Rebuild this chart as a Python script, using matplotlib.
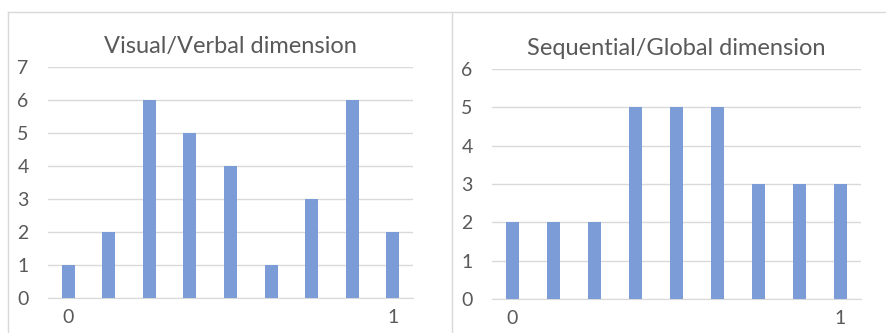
import matplotlib
matplotlib.use("Agg")
import matplotlib.pyplot as plt
from matplotlib.lines import Line2D
import numpy as np

# Histogram counts for each dimension
visual_counts = [1, 2, 6, 5, 4, 1, 3, 6, 2]
sequential_counts = [2, 2, 2, 5, 5, 5, 3, 3, 3]
edge_labels = ["0", "1"]

titles = ["Visual/Verbal dimension", "Sequential/Global dimension"]
ymaxes = [7, 6]

bar_color = "#7b9cd7"
grid_color = "#d9d9d9"
text_color = "#595959"

plt.rcParams['font.family'] = ['Lato', 'DejaVu Sans']

fig = plt.figure(figsize=(8.87, 3.33), dpi=100)
fig.patch.set_facecolor("white")

# chart frames like Excel
frame = "#d9d9d9"
fig.add_artist(Line2D([8/887, 1], [1 - 12/333, 1 - 12/333], color=frame, lw=1))
fig.add_artist(Line2D([8/887, 8/887], [0, 1 - 12/333], color=frame, lw=1))
fig.add_artist(Line2D([452/887, 452/887], [0, 1 - 12/333], color=frame, lw=1))

boxes = [[48/887, 1 - 298/333, 365/887, 231/333],
         [492/887, 1 - 299/333, 369/887, 230/333]]

for box, counts, title, ymax in zip(boxes, [visual_counts, sequential_counts], titles, ymaxes):
    ax = fig.add_axes(box)
    x = np.arange(len(counts))
    ax.bar(x, counts, width=0.32, color=bar_color, zorder=3)
    ax.set_xlim(-0.5, len(counts) - 0.5)
    ax.set_ylim(0, ymax)
    ax.set_yticks(range(ymax + 1))
    ax.set_xticks([0, len(counts) - 1])
    ax.set_xticklabels(edge_labels)
    ax.yaxis.grid(True, color=grid_color, lw=1, zorder=0)
    for s in ["top", "right", "left"]:
        ax.spines[s].set_visible(False)
    ax.spines["bottom"].set_color(grid_color)
    ax.tick_params(length=0, colors=text_color, labelsize=14)
    ax.tick_params(axis="y", pad=14)
    ax.tick_params(axis="x", pad=8)
    ax.set_title(title, color=text_color, fontsize=17, pad=10)

fig.savefig("out.png", dpi=100)
